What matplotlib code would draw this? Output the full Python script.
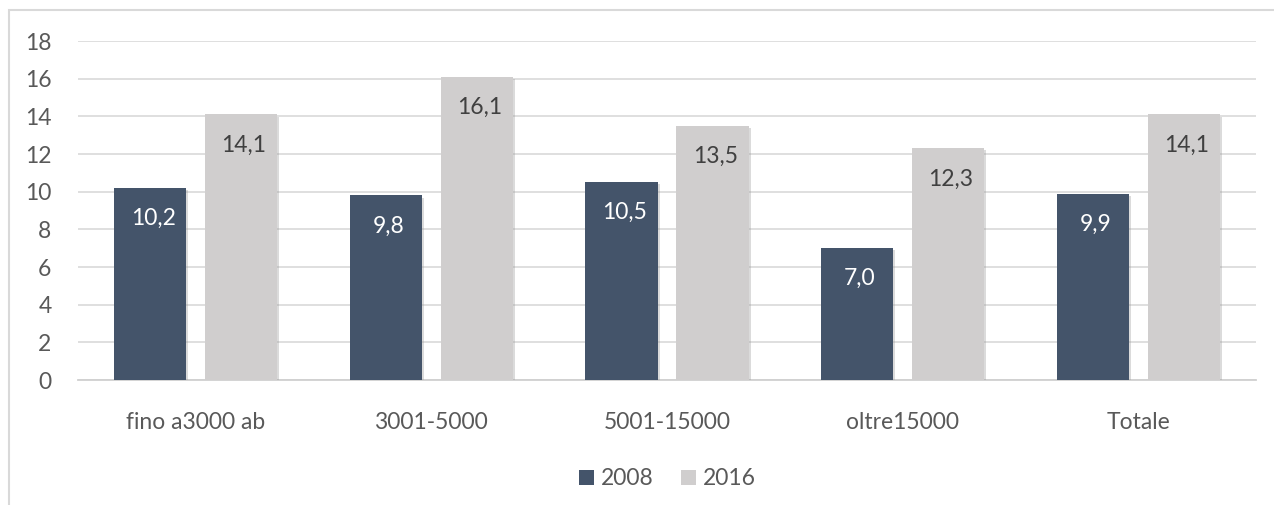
import numpy as np
import matplotlib
matplotlib.use('Agg')
import matplotlib.pyplot as plt
import matplotlib.patheffects as pe
from matplotlib.patches import Rectangle

categories = ["fino a3000 ab", "3001-5000", "5001-15000", "oltre15000", "Totale"]
vals_2008 = [10.2, 9.8, 10.5, 7.0, 9.9]
vals_2016 = [14.1, 16.1, 13.5, 12.3, 14.1]
series_names = ["2008", "2016"]
yticks = [0, 2, 4, 6, 8, 10, 12, 14, 16, 18]

plt.rcParams['font.family'] = ['Lato', 'DejaVu Sans']

fig = plt.figure(figsize=(12.74, 5.05), dpi=100)
ax = fig.add_axes([0.0612, 0.2475, 0.9247, 0.6713])

# outer frame of the chart area (right and bottom edges fall outside the picture)
fig.patches.append(Rectangle((0.007, -0.05), 1.1, 1.03, transform=fig.transFigure,
                             fill=False, edgecolor='#d9d9d9', linewidth=1.5))

x = np.arange(len(categories))
w = 0.306
off = 0.193
shadow = [pe.SimplePatchShadow(offset=(1.5, -1.5), shadow_rgbFace='#9a9a9a', alpha=0.35), pe.Normal()]

b1 = ax.bar(x - off, vals_2008, w, color='#44546a', label=series_names[0], zorder=3)
b2 = ax.bar(x + off, vals_2016, w, color='#d0cece', label=series_names[1], zorder=3)
for b in list(b1) + list(b2):
    b.set_path_effects(shadow)

for xi, v in zip(x, vals_2008):
    ax.annotate(f"{v:.1f}".replace('.', ','), (xi - off, v), xytext=(2, -22),
                textcoords='offset points', ha='center', va='center',
                color='white', fontsize=16.5, zorder=4)
for xi, v in zip(x, vals_2016):
    ax.annotate(f"{v:.1f}".replace('.', ','), (xi + off, v), xytext=(2, -22),
                textcoords='offset points', ha='center', va='center',
                color='#404040', fontsize=16.5, zorder=4)

ax.set_xlim(-0.5, len(categories) - 0.5)
ax.set_ylim(0, 18)
ax.set_yticks(yticks)
ax.set_xticks(x)
ax.set_xticklabels(categories)
ax.grid(axis='y', color='#d9d9d9', linewidth=1.2, zorder=0)
ax.set_axisbelow(True)
for s in ['top', 'right', 'left']:
    ax.spines[s].set_visible(False)
ax.spines['bottom'].set_color('#d0d0d0')
ax.spines['bottom'].set_linewidth(1.3)
ax.tick_params(axis='both', length=0, labelsize=16.5, labelcolor='#595959')
ax.tick_params(axis='y', pad=19)
ax.tick_params(axis='x', pad=23)

leg = ax.legend(loc='upper center', bbox_to_anchor=(0.5, -0.2), ncol=2, frameon=False,
                fontsize=16.5, labelcolor='#595959', handlelength=0.65, handleheight=0.65,
                handletextpad=0.3, columnspacing=1.2)
for h in leg.legend_handles:
    h.set_path_effects([])

fig.savefig('out.png', dpi=100)
